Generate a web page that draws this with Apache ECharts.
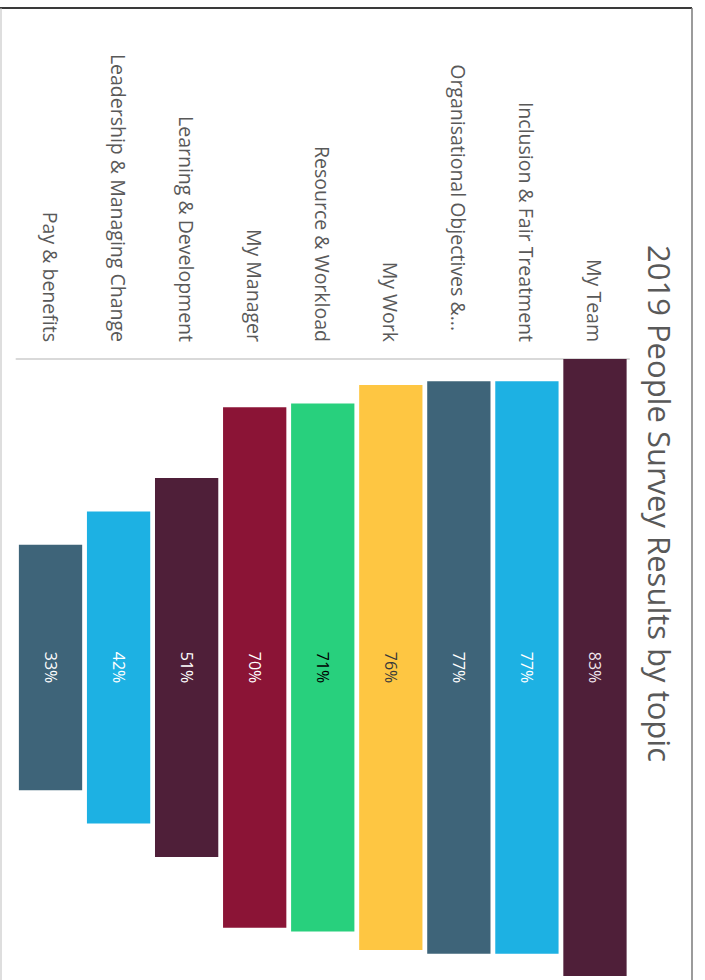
<!DOCTYPE html>
<html>
<head>
<meta charset="utf-8">
<script src="https://cdn.jsdelivr.net/npm/echarts@6/dist/echarts.min.js"></script>
<style>
html,body{margin:0;padding:0;background:#ffffff;width:705px;height:980px;overflow:hidden;}
#chart{position:absolute;left:0;top:0;width:980px;height:705px;transform-origin:0 0;transform:translate(705px,0) rotate(90deg);}
</style>
</head>
<body>
<div id="chart"></div>
<script>
// ---- data ----
const titleText = '2019 People Survey Results by topic';
const categories = [
  'My Team',
  'Inclusion & Fair Treatment',
  'Organisational Objectives &...',
  'My Work',
  'Resource & Workload',
  'My Manager',
  'Learning & Development',
  'Leadership & Managing Change',
  'Pay & benefits'
];
const values = [83, 77, 77, 76, 71, 70, 51, 42, 33];

// ---- styles ----
const barColors = ['#4F1F39', '#1DB1E3', '#3E6479', '#FEC642', '#28D07D', '#8B1436', '#4F1F39', '#1DB1E3', '#3E6479'];
const labelColors = ['#f2e8ee', '#ffffff', '#ffffff', '#3a3a3a', '#000000', '#ffffff', '#ffffff', '#ffffff', '#ffffff'];
const FONT = '"Open Sans", sans-serif';

const maxValue = Math.max(...values);
const spacer = values.map(v => (maxValue - v) / 2);

const chart = echarts.init(document.getElementById('chart'), null, { renderer: 'svg', width: 980, height: 705 });

chart.setOption({
  animation: false,
  backgroundColor: '#ffffff',
  title: {
    text: titleText,
    left: 240,
    top: 25,
    textStyle: { fontSize: 31, fontWeight: 'normal', color: '#595959', fontFamily: FONT }
  },
  grid: { left: 359, right: 4, top: 76, bottom: 16.5, containLabel: false },
  xAxis: {
    type: 'value',
    min: 0,
    max: maxValue,
    show: false
  },
  yAxis: {
    type: 'category',
    inverse: true,
    data: categories.map((c, i) => i === 2 ? { value: c, textStyle: { padding: [0, 11, 0, 0] } } : c),
    axisLine: { show: true, lineStyle: { color: '#d9d9d9', width: 2 } },
    axisTick: { show: false },
    splitLine: { show: false },
    axisLabel: { fontSize: 19.5, color: '#595959', margin: 17, fontFamily: FONT }
  },
  series: [
    {
      type: 'bar',
      stack: 'funnel',
      data: spacer,
      itemStyle: { color: 'rgba(0,0,0,0)' },
      barCategoryGap: '7%',
      silent: true
    },
    {
      type: 'bar',
      stack: 'funnel',
      barCategoryGap: '7%',
      data: values.map((v, i) => ({
        value: v,
        itemStyle: { color: barColors[i] },
        label: { color: labelColors[i] }
      })),
      label: {
        show: true,
        position: 'inside',
        formatter: '{c}%',
        fontSize: 16,
        fontFamily: FONT
      }
    }
  ],
  graphic: [
    { type: 'line', shape: { x1: 8, y1: 13, x2: 8, y2: 705 }, style: { stroke: '#3a3a3a', lineWidth: 2 } },
    { type: 'line', shape: { x1: 8, y1: 13, x2: 980, y2: 13 }, style: { stroke: '#7a7a7a', lineWidth: 1.5 } },
    { type: 'line', shape: { x1: 8, y1: 704, x2: 980, y2: 704 }, style: { stroke: '#bdbdbd', lineWidth: 1 } }
  ]
});
</script>
</body>
</html>
